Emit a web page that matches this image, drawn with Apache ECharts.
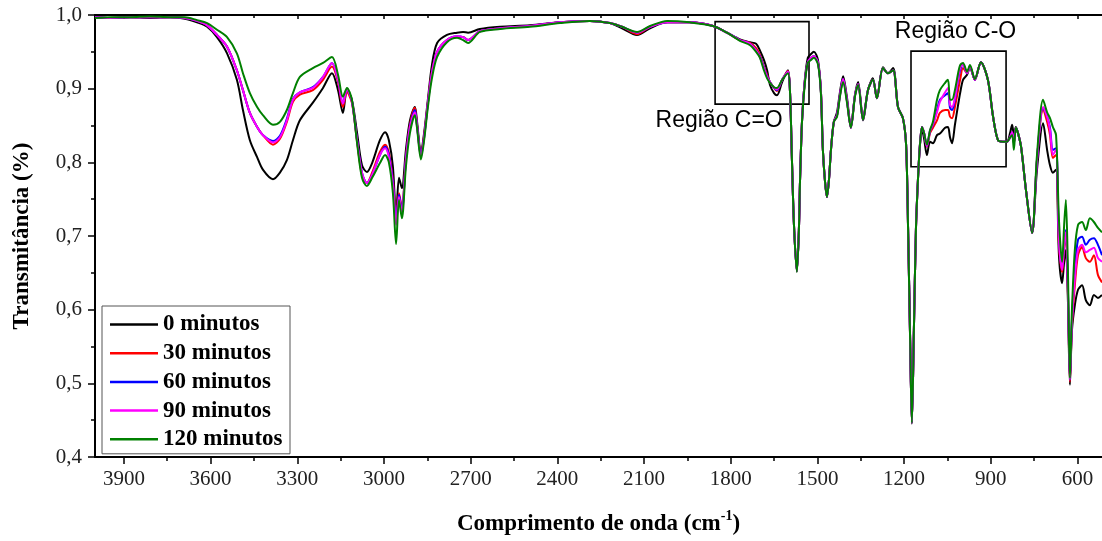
<!DOCTYPE html>
<html>
<head>
<meta charset="utf-8">
<script src="https://cdn.jsdelivr.net/npm/echarts@6/dist/echarts.min.js"></script>
<style>html,body{margin:0;padding:0;background:#fff;}#c{width:1102px;height:541px;}</style>
</head>
<body>
<div id="c"></div>
<script>
const seriesNames = ['0 minutos', '30 minutos', '60 minutos', '90 minutos', '120 minutos'];
const xMajorTicks = [3900, 3600, 3300, 3000, 2700, 2400, 2100, 1800, 1500, 1200, 900, 600];
const xMinorTicks = [3750, 3450, 3150, 2850, 2550, 2250, 1950, 1650, 1350, 1050, 750];

const wavenumbers = [
4000,3948,3879,3810,3740,3689,3647,3612,3578,3543,
3509,3488,3464,3439,3419,3384,3360,3336,3315,3291,
3246,3211,3180,3159,3142,3128,3111,3093,3076,3059,
3041,3014,2996,2983,2969,2958,2948,2938,2924,2910,
2893,2886,2872,2861,2848,2834,2816,2782,2747,2726,
2709,2668,2598,2495,2391,2287,2218,2176,2124,2079,
2020,1941,1861,1813,1768,1733,1712,1699,1685,1674,
1664,1650,1640,1622,1602,1595,1588,1581,1571,1564,
1560,1553,1543,1533,1522,1512,1498,1488,1481,1474,
1467,1460,1453,1443,1432,1422,1411,1398,1384,1370,
1359,1342,1325,1308,1294,1273,1256,1238,1221,1204,
1193,1186,1179,1173,1166,1159,1152,1145,1138,1131,
1121,1110,1100,1086,1076,1058,1048,1041,1034,1024,
1013,1006,996,982,972,955,934,910,892,875,
858,844,833,826,820,813,806,795,778,757,
740,719,705,695,685,674,664,653,646,640,
633,626,619,609,598,584,571,557,543,529,
515];

const t0min = [
.997,.996,.997,.996,.997,.995,.990,.984,.970,.948,
.912,.871,.830,.807,.790,.777,.786,.803,.830,.857,
.881,.901,.921,.898,.867,.898,.885,.840,.796,.787,
.799,.830,.841,.830,.794,.726,.779,.765,.817,.857,
.875,.857,.813,.840,.885,.932,.962,.973,.976,.977,
.976,.981,.984,.986,.990,.992,.989,.982,.973,.982,
.990,.990,.985,.976,.967,.963,.961,.952,.939,.925,
.905,.894,.891,.909,.925,.898,.803,.715,.652,.708,
.776,.857,.914,.942,.947,.950,.939,.898,.817,.776,
.753,.776,.817,.855,.868,.895,.917,.889,.849,.891,
.909,.860,.898,.914,.887,.929,.921,.928,.875,.860,
.824,.708,.559,.445,.572,.708,.776,.824,.844,.833,
.810,.828,.826,.837,.839,.847,.848,.834,.826,.851,
.878,.894,.912,.919,.929,.912,.936,.912,.862,.830,
.828,.828,.840,.851,.837,.848,.840,.821,.762,.705,
.790,.853,.817,.796,.786,.790,.674,.636,.665,.681,
.613,.498,.572,.606,.627,.633,.613,.606,.620,.616,
.620];

const t30min = [
.997,.996,.997,.997,.997,.996,.992,.986,.973,.957,
.925,.898,.867,.848,.837,.824,.832,.855,.882,.892,
.898,.912,.930,.909,.875,.895,.881,.828,.783,.772,
.786,.814,.824,.813,.776,.728,.758,.738,.806,.851,
.874,.853,.810,.836,.881,.923,.950,.966,.970,.970,
.966,.978,.982,.985,.990,.992,.989,.984,.974,.984,
.990,.990,.985,.976,.966,.962,.955,.946,.930,.919,
.909,.901,.897,.912,.924,.898,.803,.715,.652,.708,
.776,.857,.912,.936,.942,.944,.935,.898,.817,.776,
.753,.776,.817,.855,.864,.891,.913,.885,.847,.891,
.906,.857,.898,.912,.887,.928,.921,.925,.875,.860,
.824,.708,.559,.446,.572,.708,.776,.824,.848,.840,
.821,.840,.847,.857,.867,.871,.871,.862,.860,.875,
.898,.912,.928,.921,.930,.912,.936,.912,.862,.830,
.828,.828,.834,.841,.826,.847,.840,.821,.762,.704,
.803,.871,.855,.837,.806,.810,.688,.651,.684,.700,
.624,.502,.579,.633,.674,.685,.670,.665,.674,.647,
.637];

const t60min = [
.997,.996,.997,.997,.997,.996,.992,.986,.973,.957,
.925,.898,.867,.848,.837,.829,.836,.859,.886,.895,
.902,.916,.935,.912,.880,.899,.883,.830,.786,.772,
.783,.810,.821,.810,.773,.719,.756,.735,.804,.849,
.871,.852,.809,.834,.880,.921,.950,.966,.971,.970,
.966,.978,.982,.985,.990,.992,.989,.984,.976,.984,
.990,.990,.985,.976,.966,.961,.952,.944,.929,.917,
.909,.901,.898,.912,.923,.898,.803,.715,.652,.708,
.776,.857,.912,.936,.942,.944,.935,.898,.817,.776,
.753,.776,.817,.855,.864,.891,.913,.885,.847,.891,
.906,.857,.898,.912,.887,.928,.921,.925,.875,.860,
.824,.708,.559,.446,.572,.708,.776,.824,.848,.840,
.822,.843,.851,.871,.885,.891,.894,.874,.871,.885,
.912,.925,.933,.921,.930,.912,.936,.912,.862,.830,
.828,.828,.834,.841,.826,.847,.840,.821,.762,.704,
.803,.874,.862,.847,.817,.819,.697,.657,.690,.708,
.629,.505,.586,.654,.695,.699,.688,.695,.697,.688,
.674];

const t90min = [
.997,.996,.997,.997,.997,.996,.992,.986,.973,.957,
.925,.898,.867,.848,.837,.827,.834,.857,.885,.895,
.901,.916,.935,.912,.880,.899,.883,.830,.786,.772,
.783,.810,.819,.807,.769,.715,.753,.733,.803,.848,
.868,.851,.807,.834,.880,.921,.950,.966,.971,.970,
.966,.978,.982,.985,.990,.992,.989,.984,.976,.984,
.990,.990,.985,.976,.966,.961,.952,.943,.928,.916,
.909,.901,.899,.912,.923,.898,.803,.715,.652,.708,
.776,.857,.912,.936,.942,.944,.935,.898,.817,.776,
.753,.776,.817,.855,.864,.891,.913,.885,.847,.891,
.906,.857,.898,.912,.887,.928,.921,.925,.875,.860,
.824,.708,.559,.446,.572,.708,.776,.824,.848,.840,
.822,.843,.852,.868,.882,.895,.901,.878,.875,.887,
.914,.928,.933,.921,.930,.912,.936,.912,.862,.830,
.828,.828,.834,.841,.826,.847,.840,.821,.762,.704,
.803,.875,.862,.844,.810,.817,.695,.654,.688,.705,
.627,.505,.583,.643,.681,.688,.678,.681,.684,.670,
.665];

const t120min = [
.996,.997,.997,.998,.997,.997,.993,.989,.980,.970,
.948,.921,.894,.875,.864,.851,.855,.871,.894,.916,
.928,.935,.943,.919,.889,.901,.885,.826,.779,.768,
.779,.799,.810,.800,.758,.689,.749,.724,.794,.840,
.864,.848,.804,.830,.875,.914,.943,.963,.969,.966,
.962,.977,.981,.984,.989,.992,.989,.984,.977,.985,
.992,.990,.985,.976,.965,.959,.950,.942,.925,.914,
.908,.902,.901,.912,.921,.898,.803,.715,.651,.708,
.776,.857,.909,.935,.939,.942,.933,.895,.817,.776,
.753,.776,.817,.855,.862,.889,.909,.882,.847,.889,
.905,.857,.898,.912,.887,.928,.921,.925,.875,.860,
.824,.708,.559,.446,.572,.708,.776,.824,.848,.840,
.824,.844,.855,.885,.898,.908,.912,.885,.885,.898,
.921,.932,.935,.923,.932,.913,.936,.912,.862,.830,
.828,.828,.834,.837,.817,.847,.840,.821,.762,.704,
.810,.885,.868,.860,.848,.837,.722,.665,.715,.749,
.654,.507,.600,.681,.715,.719,.708,.724,.719,.711,
.705];

// annotation boxes (wavenumber / transmittance) and their captions
const boxCO_double = [[1854, 0.991], [1529, 0.879]];
const boxCO_single = [[1176, 0.951], [847, 0.794]];
const captions = [
  {name: 'Região C=O', coord: [1840, 0.856]},
  {name: 'Região C-O', coord: [1022, 0.977]}
];

const allValues = [t0min, t30min, t60min, t90min, t120min];
const colors = ['#000000', '#ff0000', '#0000ff', '#ff00ff', '#008000'];

const SERIF = '"Liberation Serif", "Times New Roman", serif';
const SANS = '"Liberation Sans", Arial, sans-serif';
const X_MIN = 515, X_MAX = 4000;

const chart = echarts.init(document.getElementById('c'), null, {renderer: 'canvas'});

const series = allValues.map((vals, i) => {
  const s = {
    name: seriesNames[i],
    type: 'line',
    xAxisIndex: 0,
    yAxisIndex: 0,
    symbol: 'none',
    smooth: 0.3,
    data: wavenumbers.map((w, k) => [w, vals[k]]),
    lineStyle: {color: colors[i], width: 2},
    itemStyle: {color: colors[i]},
    animation: false,
    z: 2 + i
  };
  if (i === seriesNames.length - 1) {
    s.markArea = {
      silent: true,
      itemStyle: {color: 'rgba(0,0,0,0)', borderColor: '#000', borderWidth: 1.6},
      label: {show: false},
      data: [
        [{xAxis: boxCO_double[0][0], yAxis: boxCO_double[0][1]}, {xAxis: boxCO_double[1][0], yAxis: boxCO_double[1][1]}],
        [{xAxis: boxCO_single[0][0], yAxis: boxCO_single[0][1]}, {xAxis: boxCO_single[1][0], yAxis: boxCO_single[1][1]}]
      ]
    };
    s.markPoint = {
      silent: true,
      symbol: 'circle',
      symbolSize: 1,
      itemStyle: {color: 'rgba(0,0,0,0)'},
      label: {show: true, position: 'inside', formatter: p => p.name, fontSize: 23, fontFamily: SANS, color: '#000'},
      data: captions.map(c => ({name: c.name, coord: c.coord}))
    };
  }
  return s;
});

const tickLine = {color: '#000', width: 1.5};
const plainNum = v => String(v);

chart.setOption({
  animation: false,
  backgroundColor: '#fff',
  grid: {left: 95, right: 0, top: 15, bottom: 84, containLabel: false},
  xAxis: [
    {
      type: 'value', position: 'bottom', inverse: true, min: X_MIN, max: X_MAX,
      axisLine: {show: true, onZero: false, lineStyle: {color: '#000', width: 2}},
      axisTick: {show: true, inside: false, length: 7, lineStyle: tickLine, customValues: xMajorTicks},
      axisLabel: {show: true, customValues: xMajorTicks, formatter: plainNum, fontSize: 21, fontFamily: SERIF, color: '#222', margin: 12},
      splitLine: {show: false},
      name: '{b|Comprimento de onda (cm}{s|-1}{b|)}',
      nameLocation: 'middle', nameGap: 52,
      nameTextStyle: {
        rich: {
          b: {fontSize: 23, fontWeight: 'bold', fontFamily: SERIF, color: '#000', lineHeight: 27, verticalAlign: 'bottom'},
          s: {fontSize: 14, fontWeight: 'bold', fontFamily: SERIF, color: '#000', lineHeight: 27, verticalAlign: 'top'}
        }
      }
    },
    {
      type: 'value', position: 'bottom', offset: 0, inverse: true, min: X_MIN, max: X_MAX,
      axisLine: {show: false},
      axisTick: {show: true, inside: false, length: 4, lineStyle: tickLine, customValues: xMinorTicks},
      axisLabel: {show: false, customValues: xMinorTicks},
      splitLine: {show: false}
    },
    {
      type: 'value', position: 'top', offset: 0, inverse: true, min: X_MIN, max: X_MAX,
      axisLine: {show: true, onZero: false, lineStyle: {color: '#000', width: 2}},
      axisTick: {show: true, inside: true, length: 4, lineStyle: tickLine, customValues: xMajorTicks},
      axisLabel: {show: false, customValues: xMajorTicks},
      splitLine: {show: false}
    },
    {
      type: 'value', position: 'top', offset: 0, inverse: true, min: X_MIN, max: X_MAX,
      axisLine: {show: false},
      axisTick: {show: true, inside: true, length: 3, lineStyle: tickLine, customValues: xMinorTicks},
      axisLabel: {show: false, customValues: xMinorTicks},
      splitLine: {show: false}
    }
  ],
  yAxis: {
    type: 'value', min: 0.4, max: 1.0, interval: 0.1,
    axisLine: {show: true, onZero: false, lineStyle: {color: '#000', width: 2}},
    axisTick: {show: true, inside: false, length: 7, lineStyle: tickLine},
    minorTick: {show: true, splitNumber: 2, length: 4, lineStyle: tickLine},
    minorSplitLine: {show: false},
    axisLabel: {formatter: v => v.toFixed(1).replace('.', ','), fontSize: 21, fontFamily: SERIF, color: '#222', margin: 13},
    splitLine: {show: false},
    name: 'Transmitância (%)',
    nameLocation: 'middle', nameGap: 61,
    nameTextStyle: {fontSize: 23, fontWeight: 'bold', fontFamily: SERIF, color: '#000'}
  },
  legend: {
    orient: 'vertical', left: 102, top: 306,
    padding: [7, 5, 3, 8],
    icon: 'rect',
    itemWidth: 48, itemHeight: 2.5, itemGap: 5.7,
    backgroundColor: '#fff',
    borderColor: '#555', borderWidth: 1,
    textStyle: {fontSize: 23, fontWeight: 'bold', fontFamily: SERIF, color: '#000', width: 122, lineHeight: 23},
    data: seriesNames
  },
  series: series
});
</script>
</body>
</html>
